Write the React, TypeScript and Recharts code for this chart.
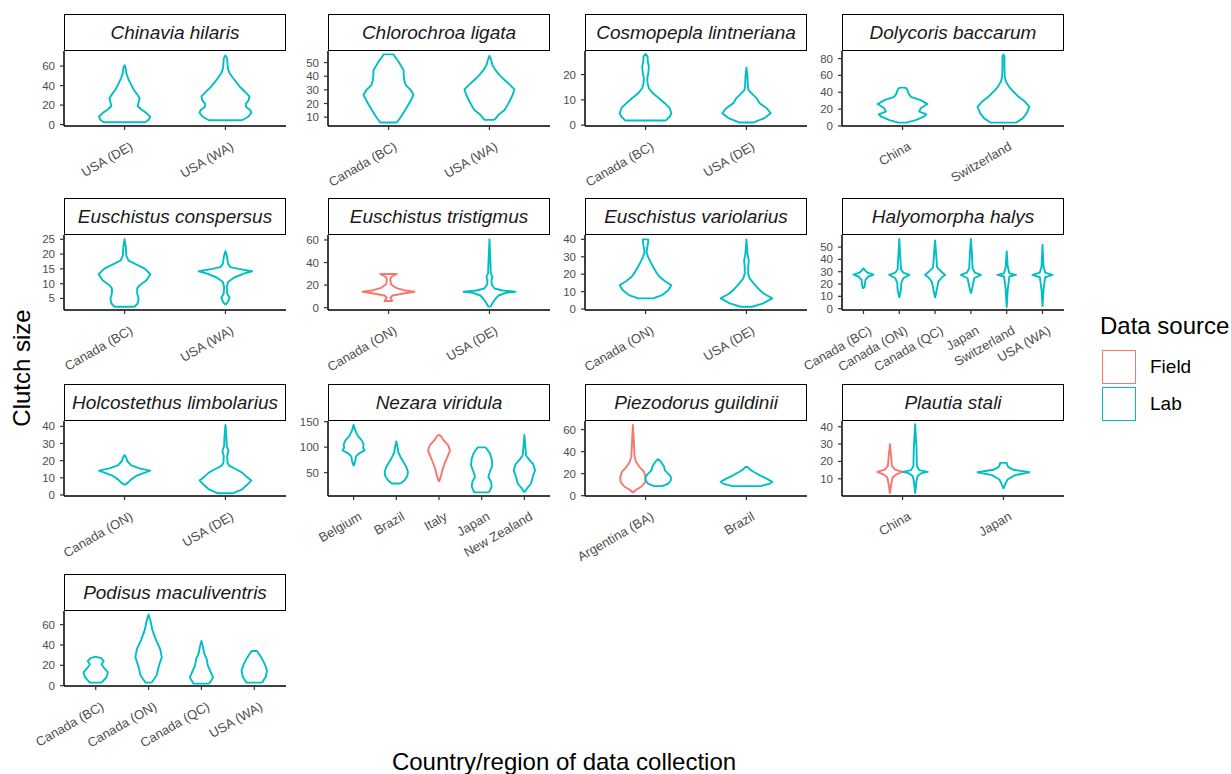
import React from 'react';
import { LineChart, Line, XAxis, YAxis } from 'recharts';

const FIELD = '#F8766D';
const LAB = '#00BFC4';
const FONT = '"Liberation Sans", Arial, sans-serif';

const species = [
  'Chinavia hilaris', 'Chlorochroa ligata', 'Cosmopepla lintneriana', 'Dolycoris baccarum',
  'Euschistus conspersus', 'Euschistus tristigmus', 'Euschistus variolarius', 'Halyomorpha halys',
  'Holcostethus limbolarius', 'Nezara viridula', 'Piezodorus guildinii', 'Plautia stali',
  'Podisus maculiventris',
];

const sites: string[][] = [
  ['USA (DE)', 'USA (WA)'],
  ['Canada (BC)', 'USA (WA)'],
  ['Canada (BC)', 'USA (DE)'],
  ['China', 'Switzerland'],
  ['Canada (BC)', 'USA (WA)'],
  ['Canada (ON)', 'USA (DE)'],
  ['Canada (ON)', 'USA (DE)'],
  ['Canada (BC)', 'Canada (ON)', 'Canada (QC)', 'Japan', 'Switzerland', 'USA (WA)'],
  ['Canada (ON)', 'USA (DE)'],
  ['Belgium', 'Brazil', 'Italy', 'Japan', 'New Zealand'],
  ['Argentina (BA)', 'Brazil'],
  ['China', 'Japan'],
  ['Canada (BC)', 'Canada (ON)', 'Canada (QC)', 'USA (WA)'],
];

const yRanges: [number, number][] = [
  [-1.5, 75.5], [3.5, 58.5], [-0.35, 29.35], [-0.05, 89],
  [1.1, 26.45], [-2.05, 64.4], [-0.57, 42.5], [-1.1, 59.8],
  [-0.6, 43.1], [4.2, 151.3], [-0.3, 67.8], [0.1, 43.3],
  [-0.35, 73.35],
];

const yTicks: number[][] = [
  [0, 20, 40, 60], [10, 20, 30, 40, 50], [0, 10, 20], [0, 20, 40, 60, 80],
  [5, 10, 15, 20, 25], [0, 20, 40, 60], [0, 10, 20, 30, 40], [0, 10, 20, 30, 40, 50],
  [0, 10, 20, 30, 40], [50, 100, 150], [0, 20, 40, 60], [10, 20, 30, 40],
  [0, 20, 40, 60],
];

// violin outlines: [clutch size, half width in category units]
const chinaviaDE: [number, number][] = [[2.4, 0.205], [5, 0.24], [8, 0.254], [12, 0.215], [16, 0.16], [19, 0.13], [23, 0.14], [27, 0.15], [31, 0.125], [36, 0.09], [42, 0.06], [48, 0.033], [53, 0.017], [57, 0.013], [61, 0]];
const chinaviaWA: [number, number][] = [[4.4, 0.165], [8, 0.225], [12, 0.257], [15, 0.245], [18, 0.205], [21, 0.2], [25, 0.23], [29, 0.238], [33, 0.2], [38, 0.15], [43, 0.11], [48, 0.073], [53, 0.04], [58, 0.023], [63, 0.02], [68, 0.017], [71, 0]];
const chlorochroaBC: [number, number][] = [[6.1, 0.083], [10.5, 0.125], [15.3, 0.165], [20.2, 0.205], [23.8, 0.23], [26.2, 0.248], [29.9, 0.22], [33.5, 0.17], [37.2, 0.155], [40.8, 0.15], [44.4, 0.15], [48.1, 0.12], [51.7, 0.09], [54.6, 0.06], [56, 0.05]];
const chlorochroaWA: [number, number][] = [[8, 0.05], [11.7, 0.09], [15.3, 0.15], [19, 0.18], [22.6, 0.205], [26.2, 0.23], [30.4, 0.248], [33.5, 0.205], [37.2, 0.15], [40.8, 0.1], [44.4, 0.06], [48.1, 0.03], [51.7, 0.017], [55, 0]];
const cosmopeplaBC: [number, number][] = [[1.8, 0.2], [3.4, 0.24], [4.7, 0.256], [6.7, 0.24], [8.7, 0.19], [10.7, 0.13], [12.6, 0.073], [14.6, 0.033], [16.6, 0.02], [18.6, 0.017], [20.5, 0.027], [23.2, 0.033], [25.1, 0.023], [27.1, 0.02], [28.2, 0]];
const cosmopeplaDE: [number, number][] = [[1.05, 0.073], [2.8, 0.18], [4.7, 0.24], [6.7, 0.2], [8.7, 0.13], [10.7, 0.1], [12, 0.066], [13.9, 0.02], [15.9, 0.013], [19.2, 0.01], [22.8, 0]];
const dolycorisChina: [number, number][] = [[3.9, 0.04], [7, 0.13], [11, 0.21], [13.8, 0.237], [17, 0.165], [21, 0.18], [26, 0.247], [30.7, 0.18], [34.6, 0.082], [38.6, 0.06], [42.5, 0.05], [44.5, 0.04], [45.5, 0.02]];
const dolycorisSwiss: [number, number][] = [[3.9, 0.125], [9, 0.19], [15, 0.23], [22.8, 0.257], [28.7, 0.214], [34.6, 0.15], [40.6, 0.1], [46.5, 0.056], [52.4, 0.026], [58, 0.013], [70, 0.01], [82, 0.01], [85, 0]];
const conspersusBC: [number, number][] = [[2.2, 0.1], [3.3, 0.13], [5, 0.14], [6.7, 0.125], [8.4, 0.125], [9.5, 0.15], [11.1, 0.215], [13.2, 0.257], [15.1, 0.2], [16.5, 0.115], [17.8, 0.04], [19.5, 0.017], [22.3, 0.013], [25, 0]];
const conspersusWA: [number, number][] = [[2.8, 0], [3.9, 0.026], [5.3, 0.04], [6.7, 0.017], [8.9, 0.013], [10.6, 0.026], [12, 0.082], [13.4, 0.18], [14.2, 0.264], [15, 0.13], [15.6, 0.05], [16.7, 0.026], [19, 0.017], [21, 0]];
const tristigmusON: [number, number][] = [[5.9, 0.04], [8.8, 0.017], [10.8, 0.04], [12.6, 0.15], [14.1, 0.257], [15.5, 0.15], [17.6, 0.073], [20.5, 0.026], [24.9, 0.017], [27.2, 0.026], [29.9, 0.082]];
const tristigmusDE: [number, number][] = [[0.9, 0.01], [4.4, 0.033], [7.9, 0.06], [10.8, 0.09], [13.2, 0.165], [14.1, 0.257], [15.2, 0.13], [17, 0.05], [20.5, 0.023], [24.3, 0.02], [27.2, 0.03], [30.7, 0.013], [39.5, 0.01], [60.6, 0]];
const variolariusON: [number, number][] = [[6.1, 0.073], [8, 0.165], [10.8, 0.225], [13.6, 0.256], [16.1, 0.19], [18.4, 0.14], [21.2, 0.105], [24.1, 0.076], [26.9, 0.05], [29.8, 0.026], [32.6, 0.01], [35.5, 0.017], [38.3, 0.026], [40, 0.026]];
const variolariusDE: [number, number][] = [[1.3, 0.06], [3.2, 0.165], [6.1, 0.256], [8.9, 0.17], [11.8, 0.115], [14.6, 0.073], [17.4, 0.033], [20.3, 0.017], [24.1, 0.017], [27.9, 0.023], [31.7, 0.01], [40, 0]];
const halysBC: [number, number][] = [[16.8, 0.02], [19.4, 0.037], [23.4, 0.056], [26.1, 0.14], [27.7, 0.28], [29.3, 0.11], [31.4, 0.037], [32.7, 0]];
const halysON: [number, number][] = [[8.8, 0], [15.4, 0.047], [20.7, 0.056], [24.7, 0.11], [27.4, 0.28], [29.3, 0.11], [31.9, 0.047], [42, 0.028], [56.6, 0]];
const halysQC: [number, number][] = [[8.8, 0], [15.4, 0.047], [22, 0.093], [25.5, 0.19], [27.4, 0.28], [30.1, 0.17], [33.5, 0.056], [45, 0.028], [55.3, 0]];
const halysJapan: [number, number][] = [[12.2, 0], [18.1, 0.047], [24.7, 0.093], [27.4, 0.28], [29.3, 0.11], [32.7, 0.047], [45, 0.028], [56.6, 0]];
const halysSwiss: [number, number][] = [[0.8, 0], [15.4, 0.028], [26.1, 0.075], [27.4, 0.26], [28.7, 0.075], [34, 0.028], [46.5, 0]];
const halysWA: [number, number][] = [[1.6, 0], [15.4, 0.028], [25.5, 0.075], [27.4, 0.28], [29.3, 0.075], [34, 0.028], [51.9, 0]];
const limbolariusON: [number, number][] = [[5.8, 0], [7.2, 0.033], [9.1, 0.066], [11.1, 0.115], [13, 0.2], [14.2, 0.254], [15.5, 0.15], [17.3, 0.066], [19.8, 0.026], [21.7, 0.017], [23.3, 0]];
const limbolariusDE: [number, number][] = [[1, 0.073], [3.3, 0.165], [6.2, 0.22], [8.5, 0.257], [11.1, 0.2], [13, 0.165], [15, 0.105], [16.9, 0.04], [18.8, 0.02], [22.7, 0.017], [25.6, 0.03], [28.5, 0.013], [33.4, 0.01], [40.8, 0]];
const nezaraBelgium: [number, number][] = [[62.9, 0], [74, 0.04], [81.9, 0.055], [88.4, 0.14], [93.5, 0.26], [98.7, 0.22], [105, 0.234], [112.9, 0.195], [122.6, 0.094], [132.3, 0.04], [144, 0]];
const nezaraBrazil: [number, number][] = [[28.7, 0.1], [35, 0.195], [42.8, 0.257], [51.3, 0.273], [61, 0.234], [70.6, 0.17], [80.3, 0.1], [90, 0.047], [100, 0.03], [111, 0]];
const nezaraItaly: [number, number][] = [[31.9, 0], [41.6, 0.04], [54.5, 0.078], [67.4, 0.13], [80.3, 0.195], [93.2, 0.257], [102.9, 0.22], [112.6, 0.117], [122.3, 0.04], [124, 0]];
const nezaraJapan: [number, number][] = [[11.3, 0.17], [22.3, 0.234], [31.9, 0.22], [41.6, 0.156], [51.3, 0.19], [64.2, 0.25], [77.1, 0.234], [88.1, 0.19], [96.5, 0.12], [99.5, 0.086]];
const nezaraNZ: [number, number][] = [[11.3, 0], [19, 0.062], [28.7, 0.156], [41.6, 0.195], [54.5, 0.25], [66.1, 0.21], [75.2, 0.117], [83.6, 0.04], [99.7, 0.023], [124, 0]];
const piezoArgField: [number, number][] = [[2.7, 0], [5.1, 0.027], [8.1, 0.083], [12.5, 0.123], [16.4, 0.126], [21.5, 0.11], [26, 0.066], [30.4, 0.033], [34.9, 0.017], [40.9, 0.013], [52.8, 0.007], [64.2, 0]];
const piezoArgLab: [number, number][] = [[8.7, 0.04], [11, 0.1], [14, 0.126], [17, 0.126], [20, 0.1], [23, 0.066], [26, 0.06], [29, 0.04], [32, 0.017], [33, 0]];
const piezoBrazil: [number, number][] = [[8.7, 0.14], [11, 0.233], [12.5, 0.256], [15.5, 0.2], [18.5, 0.133], [21.5, 0.073], [23.9, 0.033], [26, 0.013]];
const plautiaChinaField: [number, number][] = [[1.5, 0], [6.9, 0.013], [10.7, 0.026], [12.6, 0.066], [14, 0.125], [15.3, 0.05], [17.4, 0.02], [22.3, 0.013], [30, 0]];
const plautiaChinaLab: [number, number][] = [[1.5, 0], [8.9, 0.013], [11.7, 0.026], [13.3, 0.066], [14, 0.125], [15, 0.04], [17.4, 0.017], [28, 0.013], [41.4, 0]];
const plautiaJapan: [number, number][] = [[4.4, 0], [6.7, 0.016], [9.6, 0.04], [12.1, 0.115], [13.8, 0.257], [15.2, 0.1], [16.7, 0.05], [18.3, 0.035], [19.2, 0.033]];
const podisusBC: [number, number][] = [[3, 0.11], [8, 0.2], [13, 0.23], [18, 0.15], [21, 0.11], [24, 0.15], [27, 0.1], [28.5, 0]];
const podisusON: [number, number][] = [[3, 0.06], [10, 0.15], [20, 0.2], [28, 0.25], [36, 0.22], [45, 0.14], [55, 0.07], [63, 0.04], [70, 0]];
const podisusQC: [number, number][] = [[2, 0.15], [8, 0.22], [14, 0.17], [20, 0.12], [26, 0.1], [32, 0.05], [38, 0.03], [44, 0]];
const podisusWA: [number, number][] = [[3, 0.15], [9, 0.22], [15, 0.24], [21, 0.2], [27, 0.14], [31, 0.09], [34, 0.05]];

type Source = 'Field' | 'Lab';
type Violin = { panel: number; site: number; source: Source; shape: [number, number][] };

const violins: Violin[] = [
  { panel: 0, site: 1, source: 'Lab', shape: chinaviaDE },
  { panel: 0, site: 2, source: 'Lab', shape: chinaviaWA },
  { panel: 1, site: 1, source: 'Lab', shape: chlorochroaBC },
  { panel: 1, site: 2, source: 'Lab', shape: chlorochroaWA },
  { panel: 2, site: 1, source: 'Lab', shape: cosmopeplaBC },
  { panel: 2, site: 2, source: 'Lab', shape: cosmopeplaDE },
  { panel: 3, site: 1, source: 'Lab', shape: dolycorisChina },
  { panel: 3, site: 2, source: 'Lab', shape: dolycorisSwiss },
  { panel: 4, site: 1, source: 'Lab', shape: conspersusBC },
  { panel: 4, site: 2, source: 'Lab', shape: conspersusWA },
  { panel: 5, site: 1, source: 'Field', shape: tristigmusON },
  { panel: 5, site: 2, source: 'Lab', shape: tristigmusDE },
  { panel: 6, site: 1, source: 'Lab', shape: variolariusON },
  { panel: 6, site: 2, source: 'Lab', shape: variolariusDE },
  { panel: 7, site: 1, source: 'Lab', shape: halysBC },
  { panel: 7, site: 2, source: 'Lab', shape: halysON },
  { panel: 7, site: 3, source: 'Lab', shape: halysQC },
  { panel: 7, site: 4, source: 'Lab', shape: halysJapan },
  { panel: 7, site: 5, source: 'Lab', shape: halysSwiss },
  { panel: 7, site: 6, source: 'Lab', shape: halysWA },
  { panel: 8, site: 1, source: 'Lab', shape: limbolariusON },
  { panel: 8, site: 2, source: 'Lab', shape: limbolariusDE },
  { panel: 9, site: 1, source: 'Lab', shape: nezaraBelgium },
  { panel: 9, site: 2, source: 'Lab', shape: nezaraBrazil },
  { panel: 9, site: 3, source: 'Field', shape: nezaraItaly },
  { panel: 9, site: 4, source: 'Lab', shape: nezaraJapan },
  { panel: 9, site: 5, source: 'Lab', shape: nezaraNZ },
  { panel: 10, site: 1, source: 'Field', shape: piezoArgField },
  { panel: 10, site: 1, source: 'Lab', shape: piezoArgLab },
  { panel: 10, site: 2, source: 'Lab', shape: piezoBrazil },
  { panel: 11, site: 1, source: 'Field', shape: plautiaChinaField },
  { panel: 11, site: 1, source: 'Lab', shape: plautiaChinaLab },
  { panel: 11, site: 2, source: 'Lab', shape: plautiaJapan },
  { panel: 12, site: 1, source: 'Lab', shape: podisusBC },
  { panel: 12, site: 2, source: 'Lab', shape: podisusON },
  { panel: 12, site: 3, source: 'Lab', shape: podisusQC },
  { panel: 12, site: 4, source: 'Lab', shape: podisusWA },
];

// layout
const PANEL_W = 222;
const PANEL_H = 75;
const STRIP_H = 37;
const Y_W = 44;
const X_H = 80;
const colX = [64, 328, 585, 842];
const rowY = [14, 198, 384, 574];

// dodge field/lab when both share a site
function centerOf(v: Violin) {
  const shared = violins.some((o) => o !== v && o.panel === v.panel && o.site === v.site);
  if (!shared) return v.site;
  return v.site + (v.source === 'Field' ? -0.125 : 0.125);
}

function outline(v: Violin) {
  const c = centerOf(v);
  const right = v.shape.map(([y, w]) => ({ x: c + w, y }));
  const left = v.shape.slice().reverse().map(([y, w]) => ({ x: c - w, y }));
  return [...right, ...left, right[0]];
}

const siteTick = (names: string[]) => (props: any) => {
  const { x, y, payload } = props;
  const ax = x + 4.5;
  const ay = y + 9;
  return (
    <text x={ax} y={ay} transform={`rotate(-30 ${ax} ${ay})`} textAnchor="end" dy="0.71em"
      fontSize={13} fill="#4d4d4d" fontFamily={FONT}>
      {names[Math.round(payload.value) - 1]}
    </text>
  );
};

const countTick = (props: any) => (
  <text x={props.x} y={props.y} dy="0.35em" textAnchor="end" fontSize={11.5} fill="#4d4d4d" fontFamily={FONT}>
    {props.payload.value}
  </text>
);

function Panel({ idx }: { idx: number }) {
  const n = sites[idx].length;
  const left = colX[idx % 4];
  const top = rowY[Math.floor(idx / 4)];
  const mine = violins.filter((v) => v.panel === idx);
  return (
    <>
      <div
        style={{
          position: 'absolute', left, top, width: PANEL_W, height: STRIP_H, boxSizing: 'border-box',
          border: '1.6px solid #000', display: 'flex', alignItems: 'center', justifyContent: 'center',
          fontStyle: 'italic', fontSize: 19, color: '#1a1a1a', fontFamily: FONT, background: '#fff',
        }}
      >
        {species[idx]}
      </div>
      <div style={{ position: 'absolute', left: left - Y_W, top: top + STRIP_H }}>
        <LineChart width={Y_W + PANEL_W} height={PANEL_H + X_H} margin={{ top: 0, right: 0, bottom: 0, left: 0 }}>
          <XAxis
            type="number"
            dataKey="x"
            domain={[0.4, n + 0.6]}
            ticks={sites[idx].map((_, i) => i + 1)}
            interval={0}
            allowDataOverflow
            height={X_H}
            tickSize={4}
            tick={siteTick(sites[idx])}
            tickLine={{ stroke: '#333', strokeWidth: 1.2 }}
            axisLine={{ stroke: '#000', strokeWidth: 1.5 }}
          />
          <YAxis
            type="number"
            dataKey="y"
            domain={yRanges[idx]}
            ticks={yTicks[idx]}
            interval={0}
            allowDataOverflow
            width={Y_W}
            tickSize={4}
            tickMargin={5}
            tick={countTick}
            tickLine={{ stroke: '#333', strokeWidth: 1.2 }}
            axisLine={{ stroke: '#000', strokeWidth: 1.5 }}
          />
          {mine.map((v, i) => (
            <Line
              key={i}
              data={outline(v)}
              dataKey="y"
              type="linear"
              stroke={v.source === 'Field' ? FIELD : LAB}
              strokeWidth={1.9}
              strokeLinejoin="round"
              dot={false}
              activeDot={false}
              isAnimationActive={false}
            />
          ))}
        </LineChart>
      </div>
    </>
  );
}

export default function App() {
  return (
    <div style={{ position: 'absolute', left: 0, top: 0, width: 1231, height: 774, background: '#fff', fontFamily: FONT, overflow: 'hidden' }}>
      <style>{'.recharts-surface{overflow:visible}'}</style>
      {species.map((_, i) => (
        <Panel key={i} idx={i} />
      ))}
      <div
        style={{
          position: 'absolute', left: 22, top: 368, transform: 'translate(-50%, -50%) rotate(-90deg)',
          fontSize: 24, color: '#000', whiteSpace: 'nowrap',
        }}
      >
        Clutch size
      </div>
      <div
        style={{
          position: 'absolute', left: 564, top: 762, transform: 'translate(-50%, -50%)',
          fontSize: 24, color: '#000', whiteSpace: 'nowrap',
        }}
      >
        Country/region of data collection
      </div>
      <div style={{ position: 'absolute', left: 1100, top: 312, fontSize: 24, color: '#000', whiteSpace: 'nowrap', lineHeight: '28px' }}>
        Data source
      </div>
      {(['Field', 'Lab'] as Source[]).map((s, i) => (
        <React.Fragment key={s}>
          <div
            style={{
              position: 'absolute', left: 1102, top: 350 + i * 37, width: 34, height: 34, boxSizing: 'border-box',
              border: `1.8px solid ${s === 'Field' ? FIELD : LAB}`, background: '#fff',
            }}
          />
          <div style={{ position: 'absolute', left: 1150, top: 356 + i * 37, fontSize: 19, lineHeight: '22px', color: '#000' }}>
            {s}
          </div>
        </React.Fragment>
      ))}
    </div>
  );
}
